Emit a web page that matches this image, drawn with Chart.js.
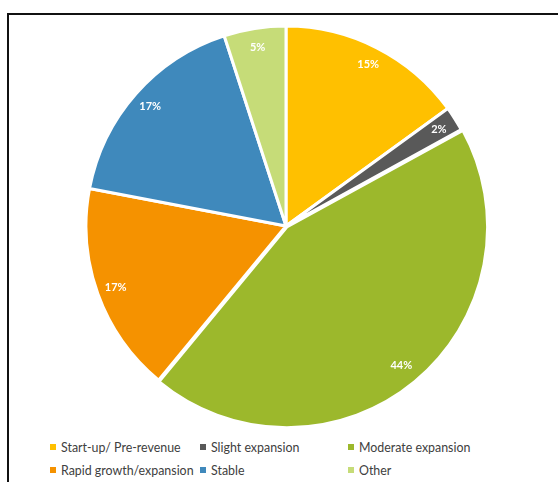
<!DOCTYPE html>
<html>
<head>
<meta charset="utf-8">
<script src="https://cdn.jsdelivr.net/npm/chart.js@4"></script>
<style>
  html, body { margin: 0; padding: 0; background: #fff; overflow: hidden; }
  body { width: 558px; height: 482px; position: relative; font-family: Lato, "Open Sans", sans-serif; }
  .frame { position: absolute; left: 7px; top: 13px; width: 600px; height: 520px; border: 2px solid #111; box-sizing: border-box; }
  .pie-box { position: absolute; left: 82px; top: 22px; width: 408px; height: 408px; }
  .legend { position: absolute; left: 50px; top: 440px; display: grid; grid-template-columns: 150px 148px 180px; row-gap: 8px; font-size: 12.4px; line-height: 15px; color: #404040; }
  .legend span.sw { display: inline-block; width: 6px; height: 6px; margin-right: 5px; vertical-align: 2px; }
</style>
</head>
<body>
<div class="frame"></div>
<div class="pie-box"><canvas id="pieChart"></canvas></div>
<div class="legend" id="legend"></div>
<script>
const labels = ['Start-up/ Pre-revenue', 'Slight expansion', 'Moderate expansion', 'Rapid growth/expansion', 'Stable', 'Other'];
const shares = [15, 2, 44, 17, 17, 5];
const colors = ['#FFC000', '#595959', '#9CB82C', '#F59200', '#3F89BC', '#C6DC78'];
const offsets = [0, 0, 5, 0, 0, 0];

// white percent labels near the outer edge of each slice
const sliceLabels = {
  id: 'sliceLabels',
  afterDatasetsDraw(chart) {
    const ctx = chart.ctx;
    const meta = chart.getDatasetMeta(0);
    ctx.save();
    ctx.fillStyle = '#fff';
    ctx.font = 'bold 11px Lato, "Open Sans", sans-serif';
    ctx.textAlign = 'center';
    ctx.textBaseline = 'middle';
    meta.data.forEach((arc, i) => {
      const p = arc.getProps(['x', 'y', 'startAngle', 'endAngle', 'outerRadius']);
      const mid = (p.startAngle + p.endAngle) / 2;
      const r = p.outerRadius - 19;
      ctx.fillText(shares[i] + '%', p.x + Math.cos(mid) * r, p.y + Math.sin(mid) * r);
    });
    ctx.restore();
  }
};

const ctx = document.getElementById('pieChart').getContext('2d');
const pieChart = new Chart(ctx, {
  type: 'pie',
  data: {
    labels: labels,
    datasets: [{
      data: shares,
      backgroundColor: colors,
      borderColor: '#fff',
      borderWidth: 3,
      offset: offsets
    }]
  },
  options: {
    responsive: true,
    maintainAspectRatio: false,
    animation: false,
    layout: { padding: 0 },
    plugins: {
      legend: { display: false },
      tooltip: { enabled: false }
    }
  },
  plugins: [sliceLabels]
});

// legend in a 3-column grid, filled row by row
const legend = document.getElementById('legend');
labels.forEach((name, i) => {
  const item = document.createElement('div');
  item.innerHTML = '<span class="sw" style="background:' + colors[i] + '"></span>' + name;
  legend.appendChild(item);
});
</script>
</body>
</html>
